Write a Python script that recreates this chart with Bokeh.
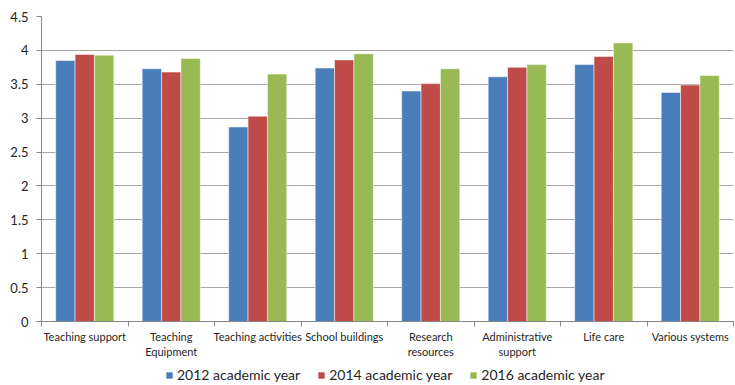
from bokeh.plotting import figure
from bokeh.layouts import column
from bokeh.models import ColumnDataSource, FixedTicker, Legend, LegendItem, Range1d
from bokeh.embed import file_html
from bokeh.resources import INLINE

categories = ["Teaching support", "Teaching\nEquipment", "Teaching activities", "School buildings",
              "Research\nresources", "Administrative\nsupport", "Life care", "Various systems"]
series_names = ["2012 academic year", "2014 academic year", "2016 academic year"]
y2012 = [3.85, 3.73, 2.87, 3.74, 3.40, 3.61, 3.79, 3.38]
y2014 = [3.94, 3.68, 3.03, 3.86, 3.51, 3.75, 3.91, 3.49]
y2016 = [3.93, 3.88, 3.65, 3.95, 3.73, 3.79, 4.11, 3.63]
y_ticks = [0, 0.5, 1, 1.5, 2, 2.5, 3, 3.5, 4, 4.5]

colors = ["#4A7EBB", "#BE4B48", "#98B954"]
FONT = "Lato"
TXT = "#262626"

p = figure(frame_width=692, frame_height=305, output_backend="svg", toolbar_location=None,
           x_range=Range1d(0, len(categories)), y_range=Range1d(0, 4.5),
           min_border_left=41, min_border_right=2, min_border_top=16, min_border_bottom=0)
p.outline_line_color = None
p.background_fill_color = "white"
p.border_fill_color = "white"

centers = [i + 0.5 for i in range(len(categories))]
bw = 0.224
offsets = [-bw, 0.0, bw]
for vals, off, col in zip([y2012, y2014, y2016], offsets, colors):
    src = ColumnDataSource(dict(x=[c + off for c in centers], top=vals))
    p.vbar(x="x", top="top", bottom=0, width=bw, source=src, fill_color=col,
           line_color="white", line_alpha=0.5, line_width=1)

# x axis: labels at category centres, ticks at boundaries
xa = p.xaxis[0]
xa.ticker = FixedTicker(ticks=centers, minor_ticks=list(range(len(categories) + 1)))
xa.major_label_overrides = {c: lab for c, lab in zip(centers, categories)}
xa.major_tick_out = 0
xa.major_tick_in = 0
xa.minor_tick_out = 5
xa.minor_tick_in = 0
xa.minor_tick_line_color = "#868686"
xa.axis_line_color = "#868686"
xa.major_label_text_font = FONT
xa.major_label_text_font_size = "11px"
xa.major_label_text_color = TXT
xa.major_label_standoff = 3
xa.major_label_text_line_height = 1.2
xa.axis_label_standoff = 0

ya = p.yaxis[0]
ya.ticker = FixedTicker(ticks=y_ticks, minor_ticks=[])
ya.major_label_overrides = {t: ("%g" % t) for t in y_ticks}
ya.major_tick_out = 5
ya.major_tick_in = 0
ya.major_tick_line_color = "#868686"
ya.axis_line_color = "#868686"
ya.major_label_text_font = FONT
ya.major_label_text_font_size = "13px"
ya.major_label_text_color = TXT
ya.major_label_standoff = 8

p.xgrid.grid_line_color = None
p.ygrid.ticker = FixedTicker(ticks=y_ticks)
p.ygrid.grid_line_color = "#a6a6a6"
p.ygrid.grid_line_width = 1

# legend in a slim strip below the chart (proxy glyphs sit outside the strip's range)
lg = figure(width=735, height=22, output_backend="svg", toolbar_location=None,
            x_axis_type=None, y_axis_type=None, min_border=0,
            x_range=Range1d(0, 1), y_range=Range1d(0, 1))
lg.outline_line_color = None
lg.xgrid.grid_line_color = None
lg.ygrid.grid_line_color = None
items = []
for name, col in zip(series_names, colors):
    r = lg.vbar(x=[-10], top=[-10], width=0.1, fill_color=col, line_color=None)
    items.append(LegendItem(label=name, renderers=[r]))
legend = Legend(items=items, orientation="horizontal", location=(124, 0),
                glyph_width=8, glyph_height=8, label_standoff=4, spacing=17,
                label_height=16,
                label_text_font=FONT, label_text_font_size="14px", label_text_color=TXT,
                border_line_color=None, background_fill_alpha=0, margin=0, padding=0)
lg.add_layout(legend)

open("out.html", "w").write(file_html(column(p, lg, spacing=0), INLINE))
